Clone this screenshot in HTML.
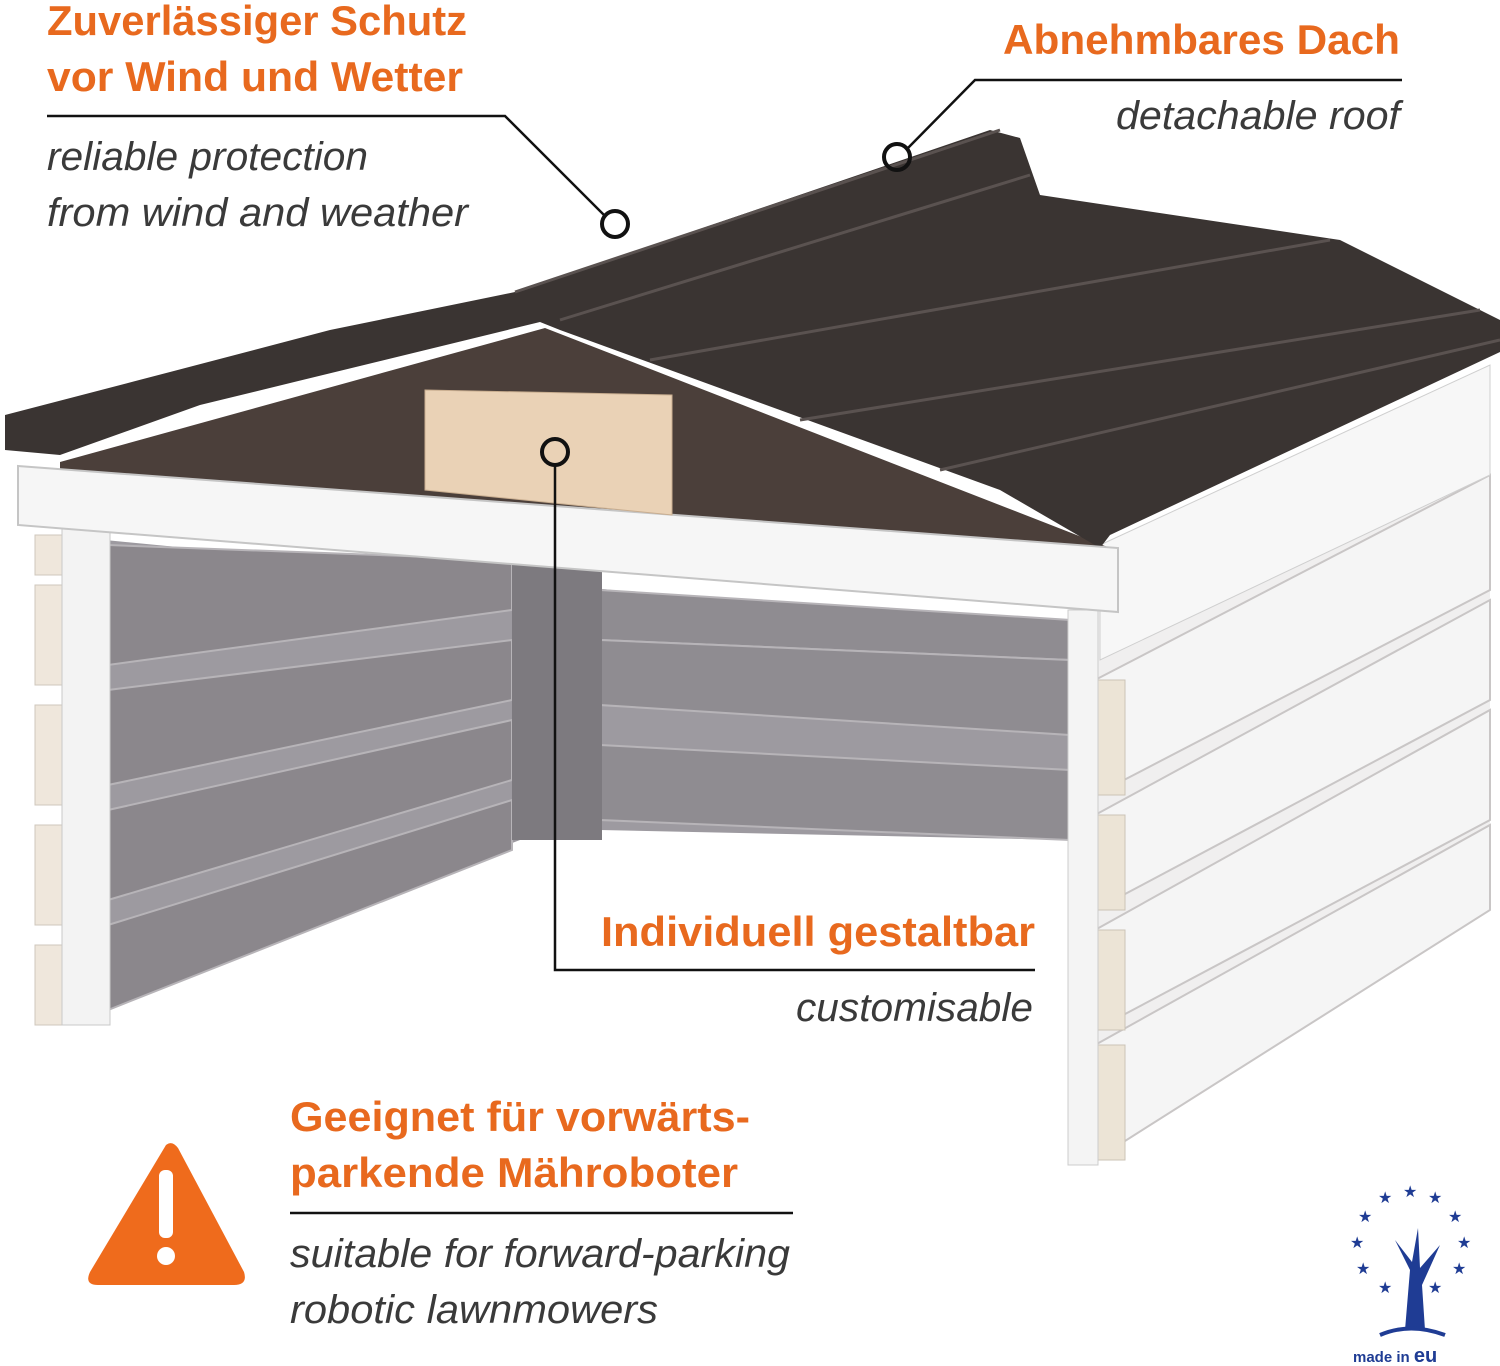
<!DOCTYPE html>
<html><head><meta charset="utf-8"><style>
html,body{margin:0;padding:0;background:#fff;}
svg{display:block}
.h{font-family:"Liberation Sans",sans-serif;font-weight:bold;fill:#e8691e;font-size:42px}
.s{font-family:"Liberation Sans",sans-serif;font-style:italic;fill:#3a3a3a;font-size:40px;font-weight:300}
</style></head><body>
<svg width="1500" height="1366" viewBox="0 0 1500 1366" xmlns="http://www.w3.org/2000/svg">
<polygon points="105,540 520,580 1070,640 1070,840 600,830 520,840 105,1000" fill="#9d9aa0"/>
<g fill="#8b878c" stroke="#b7b4b8" stroke-width="2">
<polygon points="108,545 512,560 512,610 108,665"/>
<polygon points="108,690 512,640 512,700 108,785"/>
<polygon points="108,810 512,720 512,780 108,900"/>
<polygon points="108,925 512,800 512,850 108,1010"/>
</g>
<g fill="#8f8c91" stroke="#b7b4b8" stroke-width="2">
<polygon points="600,590 1070,620 1070,660 600,640"/>
<polygon points="600,640 1070,660 1070,735 600,705"/>
<polygon points="600,745 1070,770 1070,840 600,820"/>
</g>
<rect x="512" y="560" width="90" height="280" fill="#7d7a7f"/>
<g fill="#efe7dc" stroke="#cfc7bc">
<rect x="35" y="535" width="30" height="40"/><rect x="35" y="585" width="30" height="100"/>
<rect x="35" y="705" width="30" height="100"/><rect x="35" y="825" width="30" height="100"/><rect x="35" y="945" width="30" height="80"/>
</g>
<rect x="62" y="520" width="48" height="505" fill="#f3f3f3" stroke="#c8c8c8"/>
<polygon points="1068,610 1490,365 1490,900 1068,1165" fill="#f0efef"/>
<g fill="#f5f5f5" stroke="#c9c6c6" stroke-width="2">
<polygon points="1095,680 1490,475 1490,590 1095,795"/>
<polygon points="1095,815 1490,600 1490,700 1095,910"/>
<polygon points="1095,930 1490,710 1490,820 1095,1030"/>
<polygon points="1095,1045 1490,825 1490,910 1095,1160"/>
</g>
<g fill="#ece4d6" stroke="#cbc3b6"><rect x="1095" y="680" width="30" height="115"/><rect x="1095" y="815" width="30" height="95"/><rect x="1095" y="930" width="30" height="100"/><rect x="1095" y="1045" width="30" height="115"/></g>
<polygon points="1100,545 1490,365 1490,475 1100,660" fill="#f7f7f7" stroke="#cfcfcf"/>
<rect x="1068" y="610" width="30" height="555" fill="#f4f4f4" stroke="#cccccc"/>
<polygon points="60,462 545,328 1110,548 60,470" fill="#4b3f3a"/>
<polygon points="5,415 170,372 330,330 515,292 990,130 1020,138 1040,195 1340,240 1500,320 1500,352 1110,535 1100,548 1000,490 560,330 540,322 200,405 60,455 5,450" fill="#3a3432"/>
<g stroke="#5a5250" stroke-width="3" fill="none">
<path d="M515,292 L1000,130"/><path d="M560,320 L1030,175"/><path d="M650,360 L1330,240"/><path d="M800,420 L1480,310"/><path d="M940,470 L1500,340"/>
</g>
<polygon points="18,466 1118,548 1118,612 18,525" fill="#f6f6f6" stroke="#c5c5c5" stroke-width="2"/>
<polygon points="425,390 672,395 672,515 425,490" fill="#ead2b6" stroke="#c9ae90"/>
<g stroke="#111" stroke-width="2.5" fill="none">
<path d="M47,116 L505,116 L605,216"/><circle cx="615" cy="224" r="13" stroke-width="4"/>
<path d="M1402,80 L975,80 L906,150"/><circle cx="897" cy="157" r="13" stroke-width="4"/>
<path d="M555,465 L555,970 L1035,970"/><circle cx="555" cy="452" r="13" stroke-width="4"/>
<path d="M290,1213 L793,1213"/>
</g>
<text class="h" x="47" y="35" textLength="420" lengthAdjust="spacingAndGlyphs">Zuverlässiger Schutz</text>
<text class="h" x="47" y="91" textLength="416" lengthAdjust="spacingAndGlyphs">vor Wind und Wetter</text>
<text class="s" x="47" y="170" textLength="321" lengthAdjust="spacingAndGlyphs">reliable protection</text>
<text class="s" x="47" y="226" textLength="421" lengthAdjust="spacingAndGlyphs">from wind and weather</text>
<text class="h" x="1400" y="54" text-anchor="end" textLength="397" lengthAdjust="spacingAndGlyphs">Abnehmbares Dach</text>
<text class="s" x="1400" y="129" text-anchor="end" textLength="284" lengthAdjust="spacingAndGlyphs">detachable roof</text>
<text class="h" x="1035" y="946" text-anchor="end" textLength="434" lengthAdjust="spacingAndGlyphs">Individuell gestaltbar</text>
<text class="s" x="1033" y="1021" text-anchor="end" textLength="237" lengthAdjust="spacingAndGlyphs">customisable</text>
<text class="h" x="290" y="1131" textLength="460" lengthAdjust="spacingAndGlyphs">Geeignet für vorwärts-</text>
<text class="h" x="290" y="1187" textLength="448" lengthAdjust="spacingAndGlyphs">parkende Mähroboter</text>
<text class="s" x="290" y="1267" textLength="500" lengthAdjust="spacingAndGlyphs">suitable for forward-parking</text>
<text class="s" x="290" y="1323" textLength="368" lengthAdjust="spacingAndGlyphs">robotic lawnmowers</text>
<path d="M166,1145 Q172,1140 178,1148 L244,1272 Q248,1285 234,1285 L98,1285 Q84,1285 90,1272 Z" fill="#ef6b1c"/>
<rect x="159" y="1170" width="14" height="68" rx="6" fill="#fff"/>
<circle cx="166" cy="1256" r="9" fill="#fff"/>
<g fill="#1f3c94" font-family="DejaVu Sans,sans-serif" font-size="16">
<text x="1403" y="1197">★</text><text x="1378" y="1203">★</text><text x="1428" y="1203">★</text>
<text x="1358" y="1222">★</text><text x="1448" y="1222">★</text><text x="1350" y="1248">★</text><text x="1457" y="1248">★</text>
<text x="1356" y="1274">★</text><text x="1452" y="1274">★</text><text x="1378" y="1293">★</text><text x="1428" y="1293">★</text>
</g>
<path d="M1405,1330 L1410,1270 L1395,1240 L1412,1262 L1418,1228 L1420,1268 L1440,1245 L1422,1285 L1425,1330 Z" fill="#1f3c94"/>
<path d="M1380,1335 Q1410,1322 1445,1335" stroke="#1f3c94" stroke-width="4" fill="none"/>
<text x="1353" y="1362" font-family="Liberation Sans,sans-serif" font-weight="bold" font-size="15" fill="#1f3c94">made in <tspan font-size="20">eu</tspan></text>
</svg>
</body></html>
